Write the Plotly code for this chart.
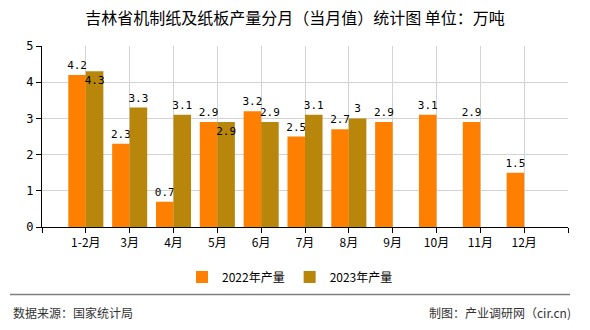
import plotly.graph_objects as go

categories = ["1-2月", "3月", "4月", "5月", "6月", "7月", "8月", "9月", "10月", "11月", "12月"]
values_2022 = [4.2, 2.3, 0.7, 2.9, 3.2, 2.5, 2.7, 2.9, 3.1, 2.9, 1.5]
values_2023 = [4.3, 3.3, 3.1, 2.9, 2.9, 3.1, 3.0, None, None, None, None]
pos_2023 = ["inside", "outside", "outside", "inside", "outside", "outside", "outside",
            "outside", "outside", "outside", "outside"]
series_names = ["2022年产量", "2023年产量"]
colors = ["#FF8000", "#B8860B"]
y_ticks = [0, 1, 2, 3, 4, 5]

xs = list(range(1, len(categories) + 1))

def fmt(v):
    return "" if v is None else f"{v:g}"

label_font = dict(family="DejaVu Sans Mono", size=11, color="#000000")
cjk = "Noto Sans CJK SC"

fig = go.Figure()
fig.add_trace(go.Bar(
    x=xs, y=values_2022, name=series_names[0], marker=dict(color=colors[0], line=dict(width=0)),
    text=[fmt(v) for v in values_2022], textposition="outside", textfont=label_font,
    textangle=0, constraintext="none", cliponaxis=False, hoverinfo="skip",
))
fig.add_trace(go.Bar(
    x=xs, y=values_2023, name=series_names[1], marker=dict(color=colors[1], line=dict(width=0)),
    text=[fmt(v) for v in values_2023], textposition=pos_2023, textfont=label_font,
    insidetextfont=label_font, outsidetextfont=label_font, insidetextanchor="end",
    textangle=0, constraintext="none", cliponaxis=False, hoverinfo="skip",
))

L, R, T, B = 42, 568, 46, 229
W, H = R - L, B - T

def px(x):
    return (x - L) / W

def py(y):
    return (B - y) / H

fig.update_layout(
    width=590, height=330,
    margin=dict(l=L, r=590 - R, t=T, b=330 - B, pad=0),
    paper_bgcolor="#FFFFFF", plot_bgcolor="#FFFFFF",
    barmode="group", bargap=0.2, bargroupgap=0,
    title=dict(text="吉林省机制纸及纸板产量分月（当月值）统计图 单位：万吨",
               x=0.5, xref="container", xanchor="center",
               y=1 - 18 / 330, yref="container", yanchor="middle",
               font=dict(family=cjk, size=16, color="#000000")),
    showlegend=True,
    legend=dict(orientation="h", x=px(290), xanchor="center", xref="paper",
                y=1 - 277 / 330, yref="container", yanchor="middle",
                font=dict(family=cjk, size=12, color="#000000"),
                itemclick=False, itemdoubleclick=False, tracegroupgap=0),
    font=dict(family=cjk, size=12, color="#000000"),
    xaxis=dict(range=[0, len(categories) + 1], tickmode="array",
               tickvals=list(range(0, len(categories) + 2)),
               ticktext=[""] + categories + [""],
               showgrid=True, gridcolor="#D3D3D3", gridwidth=1,
               showline=True, linecolor="#000000", linewidth=1,
               ticks="outside", ticklen=5, tickcolor="#000000",
               tickfont=dict(family=cjk, size=12, color="#000000"),
               zeroline=False, fixedrange=True),
    yaxis=dict(range=[0, 5], tickmode="array", tickvals=y_ticks,
               showgrid=True, gridcolor="#D3D3D3", gridwidth=1,
               showline=True, linecolor="#000000", linewidth=1,
               ticks="outside", ticklen=5, tickcolor="#000000",
               tickfont=dict(family="DejaVu Sans Mono", size=12, color="#000000"),
               zeroline=False, fixedrange=True),
)

fig.add_shape(type="line", xref="paper", yref="paper",
              x0=px(10), x1=px(570), y0=py(297), y1=py(297),
              line=dict(color="#808080", width=1.5))
fig.add_annotation(text="数据来源：国家统计局", xref="paper", yref="paper",
                   x=px(11), y=py(315), xanchor="left", yanchor="middle", showarrow=False,
                   font=dict(family=cjk, size=12, color="#333333"))
fig.add_annotation(text="制图：产业调研网（cir.cn)", xref="paper", yref="paper",
                   x=px(573), y=py(315), xanchor="right", yanchor="middle", showarrow=False,
                   font=dict(family=cjk, size=12, color="#333333"))

fig.write_html("out.html", config={"displayModeBar": False})
